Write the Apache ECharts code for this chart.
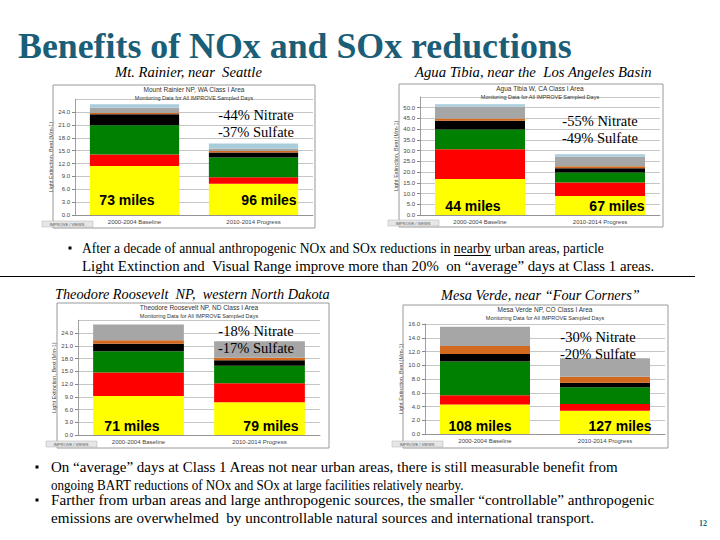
<!DOCTYPE html>
<html><head><meta charset="utf-8">
<script src="https://cdn.jsdelivr.net/npm/echarts@6/dist/echarts.min.js"></script>
<style>html,body{margin:0;padding:0;background:#fff}#c{width:720px;height:540px}</style>
</head><body><div id="c"></div>
<script>
// ---- data ----
const categories = ['2000-2004 Baseline', '2010-2014 Progress'];
const speciesNames = ['Ammonium Sulfate', 'Ammonium Nitrate', 'Organic Mass', 'Elemental Carbon', 'Soil', 'Coarse Mass', 'Sea Salt'];
// light extinction by species (Mm-1), order as speciesNames
const rainierBaseline = [11.4, 2.7, 6.8, 2.6, 0.3, 1.2, 0.85];
const rainierProgress = [7.3, 1.5, 4.6, 1.2, 0.3, 0.6, 1.2];
const aguaBaseline = [16.8, 13.8, 9.3, 4.0, 1.1, 5.4, 1.2];
const aguaProgress = [8.9, 6.2, 4.7, 2.0, 0.9, 4.5, 1.1];
const rooseveltBaseline = [9.2, 5.5, 5.0, 1.8, 0.8, 3.7, 0];
const rooseveltProgress = [7.7, 4.5, 4.1, 1.3, 0.55, 3.9, 0];
const mesaBaseline = [4.3, 1.35, 4.9, 1.1, 1.16, 2.8, 0];
const mesaProgress = [3.4, 0.95, 2.45, 0.67, 0.87, 2.68, 0];
const siteTitles = ['Mount Rainier NP, WA Class I Area', 'Agua Tibia W, CA Class I Area', 'Theodore Roosevelt NP, ND Class I Area', 'Mesa Verde NP, CO Class I Area'];
const siteHeadings = ['Mt. Rainier, near  Seattle', 'Agua Tibia, near the  Los Angeles Basin', 'Theodore Roosevelt  NP,  western North Dakota', 'Mesa Verde, near \u201cFour Corners\u201d'];
const nitrateChange = ['-44% Nitrate', '-55% Nitrate', '-18% Nitrate', '-30% Nitrate'];
const sulfateChange = ['-37% Sulfate', '-49% Sulfate', '-17% Sulfate', '-20% Sulfate'];
const baselineRange = ['73 miles', '44 miles', '71 miles', '108 miles'];
const progressRange = ['96 miles', '67 miles', '79 miles', '127 miles'];
const axisMax = [27, 55, 27, 16];
const axisInterval = [3, 5, 3, 2];

// ---- styles / layout ----
const speciesColors = ['#FFFF00', '#FF0000', '#008000', '#000000', '#D2691E', '#A6A6A6', '#A9CCDB'];
const sites = [[rainierBaseline, rainierProgress], [aguaBaseline, aguaProgress], [rooseveltBaseline, rooseveltProgress], [mesaBaseline, mesaProgress]];
const grids = [
  {left: 75, top: 99.2, width: 238, height: 115.8},
  {left: 420, top: 97, width: 240, height: 118},
  {left: 78, top: 320.25, width: 242, height: 114.75},
  {left: 425, top: 324, width: 240, height: 110}
];
const frames = [[53, 85, 262, 143], [399, 84, 264, 143], [57, 303, 272, 145], [403, 305, 265, 143]];
const headingSpan = [[115, 262, 72], [415, 652, 72], [55, 330, 294], [441, 640, 295]];
const changePos = [[256, 115], [600, 121], [256, 331], [598, 337]];
const milesPos = [[[127, 200], [269, 200]], [[473, 206], [617, 206]], [[132, 426], [271, 426]], [[480, 426], [620, 426]]];

const serif = '"Liberation Serif", "Times New Roman", serif';
const sans = '"Liberation Sans", Arial, sans-serif';
const teal = '#1B5E77';

const series = [];
sites.forEach((site, s) => {
  speciesNames.forEach((name, k) => {
    series.push({
      type: 'bar', name: name, stack: 'site' + s, xAxisIndex: s, yAxisIndex: s,
      data: [site[0][k], site[1][k]], barWidth: '75%',
      itemStyle: {color: speciesColors[k]}, silent: true
    });
  });
});

const xAxes = grids.map((g, i) => ({
  type: 'category', gridIndex: i, data: categories,
  axisLine: {lineStyle: {color: '#888', width: 0.8}},
  axisTick: {length: 3, lineStyle: {color: '#888'}},
  axisLabel: {fontSize: 6, color: '#444', margin: 4, fontFamily: sans}
}));
const yAxes = grids.map((g, i) => ({
  type: 'value', gridIndex: i, min: 0, max: axisMax[i], interval: axisInterval[i],
  name: 'Light Extinction, Bext (Mm-1)', nameLocation: 'middle', nameGap: 16,
  nameTextStyle: {fontSize: 5.5, color: '#444', fontFamily: sans},
  axisLine: {show: true, lineStyle: {color: '#888', width: 0.8}},
  axisTick: {show: true, length: 3, lineStyle: {color: '#888'}},
  axisLabel: {fontSize: 6, color: '#444', margin: 5, fontFamily: sans,
    showMaxLabel: i === 3, formatter: v => v.toFixed(1)},
  splitLine: {lineStyle: {color: '#a0a0a0', width: 0.6}}
}));

const graphic = [];
const ctx = document.createElement('canvas').getContext('2d');
function txt(text, x, y, font, opts) {
  opts = opts || {};
  graphic.push({type: 'text', silent: true, z: 100, style: {
    text: text, x: x, y: y, font: font, fill: opts.fill || '#000',
    textAlign: opts.align || 'center', align: opts.align || 'center',
    textVerticalAlign: 'middle', verticalAlign: 'middle'
  }});
}
// text stretched horizontally to span x0..x1
function fit(text, x0, x1, y, font, fill) {
  ctx.font = font;
  const w = ctx.measureText(text).width;
  const sx = (x1 - x0) / w;
  graphic.push({type: 'text', silent: true, z: 100, x: x0, y: y, scaleX: sx, scaleY: 1,
    style: {text: text, x: 0, y: 0, font: font, fill: fill || '#000',
      textAlign: 'left', align: 'left', textVerticalAlign: 'middle', verticalAlign: 'middle'}});
  return {sx: sx, font: font};
}
// main title
fit('Benefits of NOx and SOx reductions', 18, 572, 46, 'bold 35px ' + serif, teal);
// frames and chart labels
frames.forEach((f, i) => {
  graphic.push({type: 'rect', silent: true, z: 1, shape: {x: f[0], y: f[1], width: f[2], height: f[3]},
    style: {fill: 'none', stroke: '#9a9a9a', lineWidth: 1}});
  const cx = grids[i].left + grids[i].width / 2;
  txt(siteTitles[i], cx, f[1] + 4.5, '6.5px ' + sans, {fill: '#333'});
  txt('Monitoring Data for All IMPROVE Sampled Days', cx, f[1] + 12.5, '5.5px ' + sans, {fill: '#333'});
  graphic.push({type: 'rect', silent: true, z: 50, shape: {x: f[0] - 11, y: f[1] + f[3] - 7, width: 51, height: 6},
    style: {fill: '#e6e6e6', stroke: '#b0b0b0', lineWidth: 0.5}});
  txt('IMPROVE / VIEWS', f[0] + 14, f[1] + f[3] - 4, '4px ' + sans, {fill: '#555'});
  fit(siteHeadings[i], headingSpan[i][0], headingSpan[i][1], headingSpan[i][2], 'italic 15px ' + serif);
  txt(nitrateChange[i], changePos[i][0], changePos[i][1], '14.5px ' + serif);
  txt(sulfateChange[i], changePos[i][0], changePos[i][1] + 17, '14.5px ' + serif);
  txt(baselineRange[i], milesPos[i][0][0], milesPos[i][0][1], 'bold 14px ' + sans);
  txt(progressRange[i], milesPos[i][1][0], milesPos[i][1][1], 'bold 14px ' + sans);
});
// bullets
const bulletFont = '15px ' + serif;
function bullet(x, y) {
  graphic.push({type: 'rect', silent: true, z: 100, shape: {x: x - 1.5, y: y - 1.5, width: 3, height: 3}, style: {fill: '#000'}});
}
bullet(70, 248);
const b1a = 'After a decade of annual anthropogenic NOx and SOx reductions in ';
const l1 = fit(b1a + 'nearby urban areas, particle', 82, 604, 248, bulletFont);
fit('Light Extinction and  Visual Range improve more than 20%  on \u201caverage\u201d days at Class 1 areas.', 82, 655, 266, bulletFont);
ctx.font = bulletFont;
const ux0 = 82 + ctx.measureText(b1a).width * l1.sx;
const ux1 = ux0 + ctx.measureText('nearby').width * l1.sx;
graphic.push({type: 'line', silent: true, z: 100, shape: {x1: ux0, y1: 255.5, x2: ux1, y2: 255.5}, style: {stroke: '#000', lineWidth: 1}});
graphic.push({type: 'line', silent: true, z: 100, shape: {x1: 0, y1: 276.5, x2: 695, y2: 276.5}, style: {stroke: '#000', lineWidth: 1}});
bullet(37, 467);
fit('On \u201caverage\u201d days at Class 1 Areas not near urban areas, there is still measurable benefit from', 51, 619, 467, bulletFont);
fit('ongoing BART reductions of NOx and SOx at large facilities relatively nearby.', 51, 464, 485, bulletFont);
bullet(37, 500);
fit('Farther from urban areas and large anthropogenic sources, the smaller \u201ccontrollable\u201d anthropogenic', 51, 655, 500, bulletFont);
fit('emissions are overwhelmed  by uncontrollable natural sources and international transport.', 51, 594, 518, bulletFont);
txt('12', 703, 523, 'bold 8px ' + serif, {fill: teal});

const chart = echarts.init(document.getElementById('c'), null, {renderer: 'svg'});
chart.setOption({
  backgroundColor: '#fff',
  animation: false,
  grid: grids,
  xAxis: xAxes,
  yAxis: yAxes,
  series: series,
  graphic: graphic
});
</script></body></html>
